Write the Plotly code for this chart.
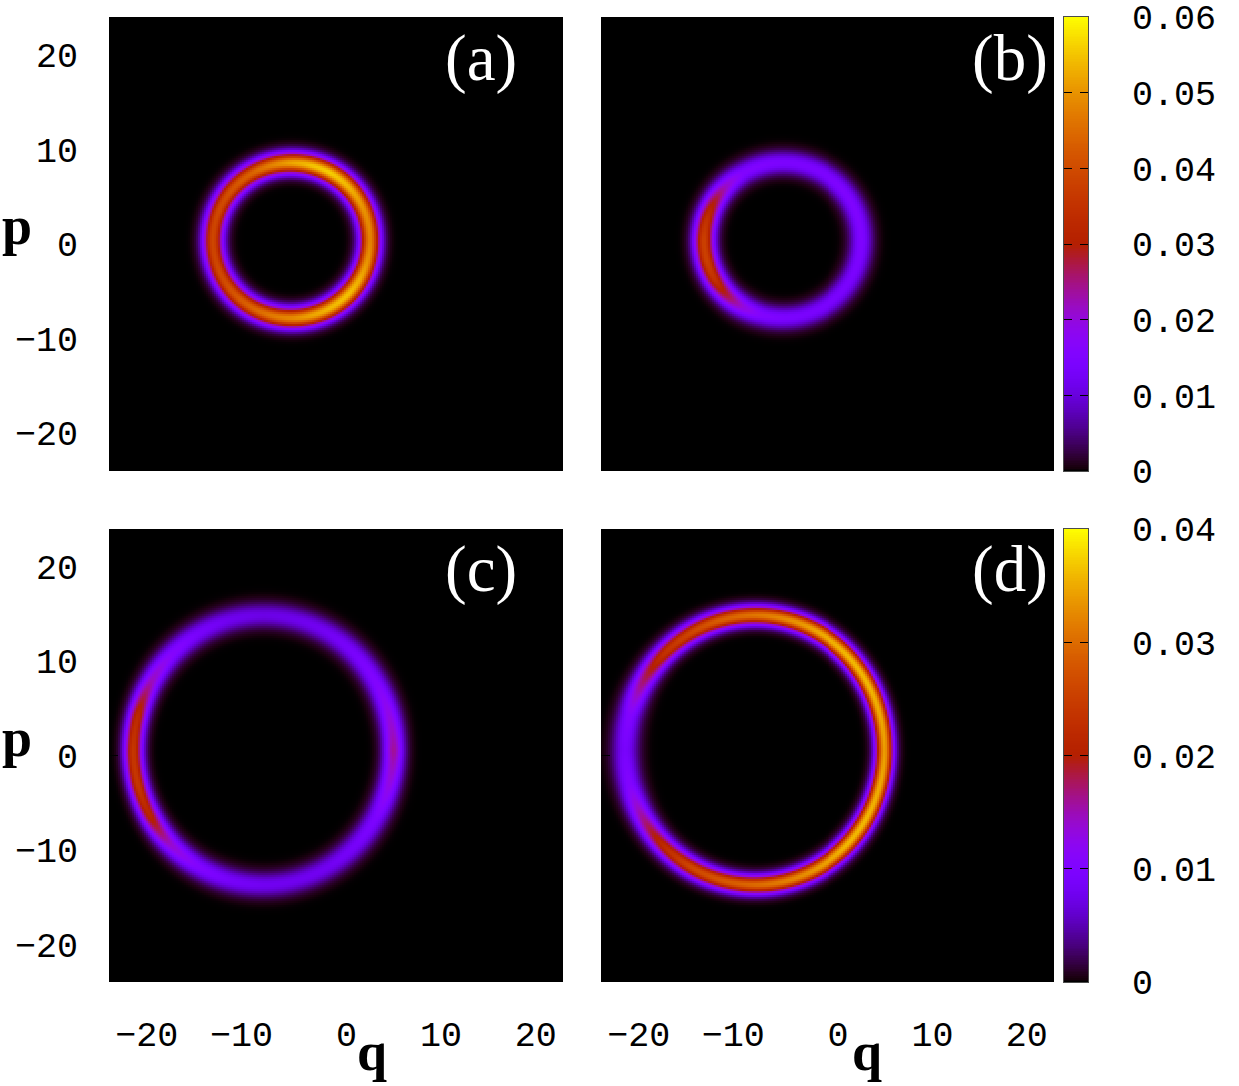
import numpy as np
import plotly.graph_objects as go

W, H = 1239, 1086
# angle (deg, from +q counter-clockwise) at which the ridge of each ring was read
angles = [0, 15, 30, 45, 60, 75, 90, 105, 120, 135, 150, 165, 180, 195, 210, 225, 240, 255, 270, 285, 300, 315, 330, 345]

# ridge height read along each ring
amp_a = [.048, .049, .051, .054, .056, .055, .052, .048, .044, .042, .040, .039, .039, .039, .040, .042, .044, .047, .049, .052, .054, .055, .053, .050]
amp_b = [.015, .015, .015, .015, .0145, .0145, .0145, .015, .0155, .021, .029, .035, .038, .038, .035, .028, .020, .0155, .0145, .014, .014, .014, .014, .0145]
amp_c = [.016, .013, .0104, .0092, .0082, .0076, .0072, .0078, .009, .011, .015, .022, .024, .024, .021, .014, .0104, .0088, .008, .0078, .008, .0088, .0098, .013]
amp_d = [.034, .035, .036, .036, .035, .033, .031, .029, .026, .023, .017, .0105, .009, .0105, .016, .022, .026, .028, .030, .032, .034, .036, .036, .035]

# ridge half-width (sigma, in q/p units) read along each ring
sig_a = [.78] * 24
sig_b = [.82, .82, .82, .82, .82, .82, .82, .82, .82, .8, .78, .78, .78, .78, .78, .78, .82, .82, .82, .82, .82, .82, .82, .82]
sig_c = [.8, .84, .85, .85, .85, .85, .85, .85, .84, .82, .78, .74, .72, .72, .74, .78, .82, .85, .85, .85, .85, .85, .85, .82]
sig_d = [.68, .68, .68, .68, .68, .68, .68, .7, .72, .74, .8, .9, .95, .9, .8, .74, .72, .7, .68, .68, .68, .68, .68, .68]

# ring centres and radii (q, p, r_q, r_p)
ring_a = [-4.7, 0.37, 8.3, 8.2]
ring_b = [-4.75, 0.40, 8.35, 8.2]
ring_c = [-7.66, 0.58, 13.75, 14.3]
ring_d = [-7.68, 0.58, 13.75, 14.3]

tick_vals = [-20, -10, 0, 10, 20]
x_tick_text = ["\u221220", "\u221210", "\u00a00", "\u00a010", "\u00a020"]
y_tick_text = ["\u221220", "\u221210", "0", "10", "20"]
bar_top_ticks = [0, .01, .02, .03, .04, .05, .06]
bar_top_text = ["0", "0.01", "0.02", "0.03", "0.04", "0.05", "0.06"]
bar_bot_ticks = [0, .01, .02, .03, .04]
bar_bot_text = ["0", "0.01", "0.02", "0.03", "0.04"]
panel_names = ["(a)", "(b)", "(c)", "(d)"]

# gnuplot default pm3d palette
s = np.linspace(0, 1, 128)
pal_r = np.sqrt(s)
pal_g = s ** 3
pal_b = np.clip(np.sin(2 * np.pi * s), 0, 1)
scale = [[float(t), f"rgb({int(255*r)},{int(255*g)},{int(255*b)})"] for t, r, g, b in zip(s, pal_r, pal_g, pal_b)]

grid = np.linspace(-24, 24, 228)


def ring_field(ring, amp, sig):
    q0, p0, rq, rp = ring
    Q, P = np.meshgrid(grid, grid)
    th = np.degrees(np.arctan2((P - p0) / rp, (Q - q0) / rq)) % 360
    a_wrap = angles + [360]
    A = np.interp(th, a_wrap, amp + amp[:1])
    S = np.interp(th, a_wrap, sig + sig[:1])
    rho = np.hypot((Q - q0) / rq, (P - p0) / rp)
    R_mean = 0.5 * (rq + rp)
    return A * np.exp(-0.5 * ((rho - 1) * R_mean / S) ** 2)


panels = [
    ("x", "y", ring_field(ring_a, amp_a, sig_a), .06, (109, 563), (17, 471), False, True),
    ("x2", "y2", ring_field(ring_b, amp_b, sig_b), .06, (601, 1054), (17, 471), False, False),
    ("x3", "y3", ring_field(ring_c, amp_c, sig_c), .04, (109, 563), (529, 982), True, True),
    ("x4", "y4", ring_field(ring_d, amp_d, sig_d), .04, (601, 1054), (529, 982), True, False),
]

fig = go.Figure()
layout = dict(
    width=W, height=H, margin=dict(l=0, r=0, t=0, b=0), autosize=False,
    paper_bgcolor="white", plot_bgcolor="black", showlegend=False,
    font=dict(family="Liberation Mono", size=35, color="black"),
)


def dx(a, b):
    return [a / W, b / W]


def dy(a, b):
    return [1 - b / H, 1 - a / H]


for i, (xa, ya, z, zmax, xr, yr, show_x, show_y) in enumerate(panels):
    fig.add_trace(go.Heatmap(x=grid, y=grid, z=z, xaxis=xa, yaxis=ya, zmin=0, zmax=zmax,
                             colorscale=scale, showscale=False, hoverinfo="skip"))
    n = "" if i == 0 else str(i + 1)
    layout["xaxis" + n] = dict(domain=dx(*xr), range=[-24, 24], anchor=ya, tickmode="array", automargin=False,
                               tickvals=tick_vals, ticktext=x_tick_text, showticklabels=show_x,
                               ticks="inside", ticklen=9, tickcolor="black", showgrid=False, zeroline=False,
                               showline=False, ticklabelstandoff=28, tickangle=0)
    layout["yaxis" + n] = dict(domain=dy(*yr), range=[-24, 24], anchor=xa, tickmode="array", automargin=False,
                               tickvals=tick_vals, ticktext=y_tick_text, showticklabels=show_y,
                               ticks="inside", ticklen=9, tickcolor="black", showgrid=False, zeroline=False,
                               showline=False, ticklabelstandoff=30)

# colour bars, each on its own axes
for idx, (zmax, ticks, text, yr) in enumerate([(.06, bar_top_ticks, bar_top_text, (17, 471)),
                                               (.04, bar_bot_ticks, bar_bot_text, (529, 982))]):
    n = str(5 + idx)
    levels = np.linspace(0, zmax, 256)
    fig.add_trace(go.Heatmap(x=[0, 1], y=levels, z=np.column_stack([levels, levels]), xaxis="x" + n, yaxis="y" + n,
                             zmin=0, zmax=zmax, colorscale=scale, showscale=False, hoverinfo="skip"))
    layout["xaxis" + n] = dict(domain=dx(1064, 1088), range=[0, 1], anchor="y" + n, showticklabels=False,
                               ticks="", showgrid=False, zeroline=False, showline=True, linecolor="rgba(0,0,0,.7)",
                               linewidth=1, mirror=True, automargin=False)
    layout["yaxis" + n] = dict(domain=dy(*yr), range=[0, zmax], anchor="x" + n, side="right", tickmode="array",
                               tickvals=ticks, ticktext=text, ticks="inside", ticklen=8, tickcolor="black",
                               showgrid=False, zeroline=False, showline=True, linecolor="rgba(0,0,0,.7)",
                               linewidth=1, mirror="allticks", ticklabelstandoff=36, automargin=False)

notes = []
for name, cx, cy in zip(panel_names, [481, 1010, 481, 1010], [58, 58, 569, 569]):
    notes.append(dict(text=name, x=cx / W, y=1 - cy / H, xref="paper", yref="paper", showarrow=False,
                      xanchor="center", yanchor="middle",
                      font=dict(family="Liberation Serif", size=65, color="white")))
for name, cx, cy in [("p", 17, 226), ("p", 17, 738), ("q", 372, 1052), ("q", 867, 1052)]:
    notes.append(dict(text=name, x=cx / W, y=1 - cy / H, xref="paper", yref="paper", showarrow=False,
                      xanchor="center", yanchor="middle",
                      font=dict(family="Liberation Serif", size=54, color="black", weight="bold")))
layout["annotations"] = notes
fig.update_layout(**layout)
fig.write_html("out.html", config={"displayModeBar": False}, post_script="document.body.style.margin='0';")
